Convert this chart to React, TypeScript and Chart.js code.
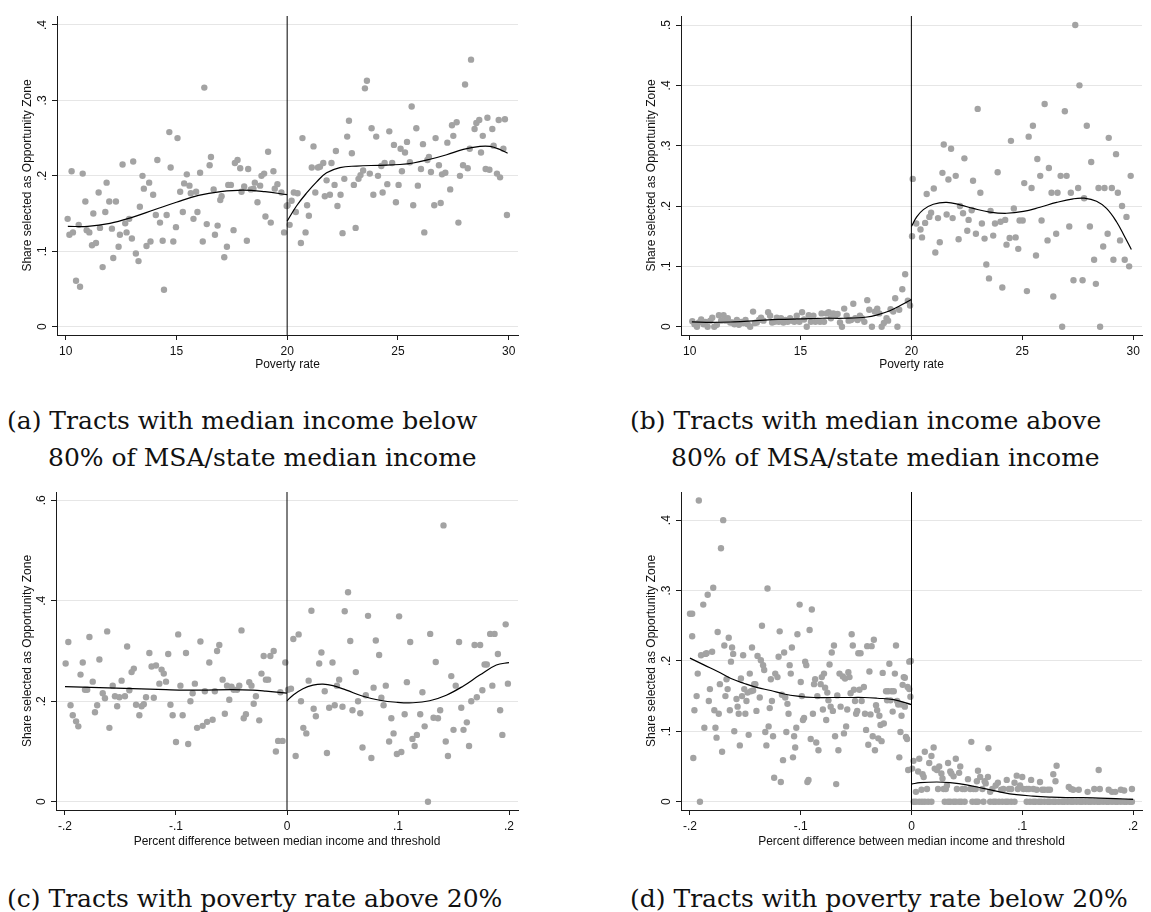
import React, { useEffect, useRef } from "react";
import { Chart, registerables } from "chart.js";
Chart.register(...registerables);

// ---------- Panel (a): poverty rate vs share, median income below 80% ----------
const aScatter: [number, number][] = [
  [10.09,.143],[10.17,.122],[10.27,.206],[10.33,.125],[10.47,.061],[10.59,.135],[10.65,.053],[10.77,.203],[10.89,.166],[10.95,.128],
  [11.07,.125],[11.19,.108],[11.25,.150],[11.37,.111],[11.49,.178],[11.55,.131],[11.67,.079],[11.79,.152],[11.85,.191],[11.97,.166],
  [12.09,.130],[12.15,.091],[12.27,.166],[12.39,.106],[12.45,.122],[12.57,.215],[12.69,.137],[12.75,.125],[12.87,.143],[12.99,.117],
  [13.05,.219],[13.17,.097],[13.29,.087],[13.35,.159],[13.47,.200],[13.53,.183],[13.65,.107],[13.77,.191],[13.83,.113],[13.95,.175],
  [14.07,.148],[14.14,.221],[14.26,.138],[14.38,.114],[14.44,.049],[14.56,.148],[14.68,.258],[14.74,.211],[14.86,.113],[14.98,.132],
  [15.05,.250],[15.17,.179],[15.29,.152],[15.35,.190],[15.47,.202],[15.59,.187],[15.65,.177],[15.77,.143],[15.89,.179],[15.95,.152],
  [16.07,.204],[16.19,.113],[16.26,.317],[16.37,.136],[16.50,.214],[16.56,.225],[16.68,.182],[16.74,.122],[16.86,.134],[16.98,.168],
  [17.04,.173],[17.16,.092],[17.28,.106],[17.34,.188],[17.46,.188],[17.58,.128],[17.64,.217],[17.76,.221],[17.88,.210],[17.94,.179],
  [18.06,.186],[18.18,.114],[18.24,.209],[18.36,.182],[18.48,.183],[18.54,.191],[18.66,.165],[18.78,.187],[18.84,.200],[18.96,.203],
  [19.02,.146],[19.14,.232],[19.26,.138],[19.38,.206],[19.44,.183],[19.56,.189],[19.74,.178],[19.86,.125],[19.98,.160],
  [20.02,.161],[20.11,.135],[20.20,.167],[20.30,.178],[20.39,.152],[20.47,.177],[20.62,.111],[20.69,.250],[20.83,.125],[20.90,.161],
  [20.98,.147],[21.11,.211],[21.19,.239],[21.27,.178],[21.39,.211],[21.48,.212],[21.63,.217],[21.70,.173],[21.78,.194],[21.93,.175],
  [22.00,.217],[22.14,.188],[22.20,.233],[22.27,.160],[22.41,.175],[22.50,.124],[22.58,.196],[22.71,.252],[22.79,.273],[22.92,.230],
  [23.01,.188],[23.09,.131],[23.22,.196],[23.31,.201],[23.43,.207],[23.51,.316],[23.60,.326],[23.73,.203],[23.81,.263],[23.89,.175],
  [24.02,.252],[24.10,.200],[24.25,.213],[24.31,.178],[24.40,.217],[24.52,.189],[24.61,.259],[24.74,.217],[24.82,.241],[24.91,.165],
  [25.03,.188],[25.12,.236],[25.18,.206],[25.32,.231],[25.41,.245],[25.54,.218],[25.62,.292],[25.69,.161],[25.83,.263],[25.90,.187],
  [26.04,.209],[26.13,.242],[26.19,.125],[26.33,.221],[26.40,.225],[26.49,.205],[26.64,.161],[26.70,.250],[26.85,.214],[26.93,.164],
  [26.99,.202],[27.14,.204],[27.23,.244],[27.36,.182],[27.44,.267],[27.50,.253],[27.65,.271],[27.73,.138],[27.80,.200],[27.94,.214],
  [28.03,.321],[28.15,.210],[28.24,.236],[28.30,.354],[28.46,.262],[28.54,.270],[28.67,.274],[28.75,.231],[28.83,.253],[28.96,.209],
  [29.04,.277],[29.13,.208],[29.26,.262],[29.32,.240],[29.47,.203],[29.55,.274],[29.61,.198],[29.76,.236],[29.83,.275],[29.92,.148],
];
const aFitLeft: [number, number][] = [
  [10.1,.133],[11,.133],[12,.137],[13,.145],[14,.155],[15,.165],[16,.174],[17,.179],[18,.181],[19,.179],[20,.175],
];
const aFitRight: [number, number][] = [
  [20,.140],[20.42,.160],[20.87,.177],[21.33,.192],[21.78,.204],[22.38,.211],[23.13,.213],[24.19,.214],[25.09,.215],
  [25.69,.217],[26.45,.222],[27.2,.228],[27.95,.235],[28.7,.239],[29.16,.239],[29.6,.235],[29.95,.230],
];

// ---------- Panel (b): poverty rate vs share, median income above 80% ----------
const bScatter: [number, number][] = [
  [10.12,.009],[10.22,.004],[10.33,.0],[10.42,.007],[10.52,.012],[10.63,.004],[10.72,.008],[10.81,.0],[10.93,.010],[11.02,.015],
  [11.11,.0],[11.23,.003],[11.32,.019],[11.42,.010],[11.53,.019],[11.62,.010],[11.72,.014],[11.83,.007],[11.92,.007],[12.02,.004],
  [12.13,.011],[12.22,.003],[12.33,.008],[12.43,.006],[12.52,.011],[12.62,.004],[12.73,.0],[12.86,.025],[12.94,.006],[13.03,.007],
  [13.13,.011],[13.22,.015],[13.33,.010],[13.54,.024],[13.63,.018],[13.72,.007],[13.83,.008],[13.93,.015],[14.02,.008],[14.12,.014],
  [14.23,.007],[14.32,.011],[14.42,.008],[14.53,.014],[14.62,.010],[14.72,.008],[14.83,.018],[14.95,.008],[15.07,.024],[15.16,.012],
  [15.28,.0],[15.37,.019],[15.47,.008],[15.58,.018],[15.67,.008],[15.77,.010],[15.88,.008],[15.95,.022],[16.06,.008],[16.18,.022],
  [16.27,.024],[16.37,.014],[16.48,.022],[16.58,.019],[16.67,.021],[16.78,.007],[16.87,.0],[16.97,.030],[17.08,.018],[17.17,.010],
  [17.28,.011],[17.38,.038],[17.47,.014],[17.57,.011],[17.68,.018],[17.77,.014],[17.88,.008],[18.01,.044],[18.10,.028],[18.22,.0],
  [18.35,.025],[18.46,.030],[18.55,.022],[18.66,.0],[18.76,.006],[18.88,.014],[18.95,.010],[19.06,.029],[19.18,.025],[19.27,.047],
  [19.37,.0],[19.45,.028],[19.59,.062],[19.72,.087],[19.84,.043],[19.94,.035],
  [20.03,.150],[20.06,.245],[20.22,.171],[20.41,.161],[20.48,.148],[20.62,.172],[20.69,.220],[20.81,.182],[20.89,.189],[21.01,.229],
  [21.08,.123],[21.20,.180],[21.28,.140],[21.40,.255],[21.46,.302],[21.59,.186],[21.67,.244],[21.79,.295],[21.86,.180],[22.00,.250],
  [22.13,.145],[22.19,.200],[22.33,.188],[22.39,.279],[22.52,.159],[22.58,.177],[22.72,.193],[22.78,.242],[22.91,.154],[22.99,.361],
  [23.11,.222],[23.18,.171],[23.30,.146],[23.38,.103],[23.50,.080],[23.57,.192],[23.69,.151],[23.77,.171],[23.89,.256],[24.02,.174],
  [24.10,.065],[24.23,.177],[24.29,.136],[24.43,.147],[24.49,.308],[24.62,.196],[24.70,.148],[24.82,.129],[24.88,.176],[25.02,.176],
  [25.09,.238],[25.21,.059],[25.29,.315],[25.42,.230],[25.48,.333],[25.62,.118],[25.68,.278],[25.81,.250],[25.87,.176],[26.01,.369],
  [26.14,.143],[26.20,.263],[26.32,.222],[26.40,.050],[26.53,.154],[26.59,.222],[26.73,.250],[26.80,.0],[26.92,.357],[27.00,.250],
  [27.12,.166],[27.19,.222],[27.31,.077],[27.39,.500],[27.52,.230],[27.58,.400],[27.72,.077],[27.79,.213],[27.91,.333],[28.05,.166],
  [28.11,.273],[28.24,.111],[28.32,.071],[28.44,.230],[28.51,.0],[28.65,.133],[28.71,.230],[28.85,.154],[28.90,.313],[29.04,.230],
  [29.11,.111],[29.23,.286],[29.31,.222],[29.41,.143],[29.50,.200],[29.62,.111],[29.70,.182],[29.82,.100],[29.89,.250],
];
const bFitLeft: [number, number][] = [
  [10.1,.008],[11,.007],[12,.008],[13,.010],[14,.012],[15,.013],[16,.014],[17,.014],[18,.016],[18.5,.020],[19,.026],[19.5,.035],[20,.045],
];
const bFitRight: [number, number][] = [
  [20,.166],[20.24,.182],[20.54,.194],[20.99,.203],[21.59,.206],[22.19,.202],[22.79,.196],[23.54,.190],[24.29,.188],[25.05,.191],
  [25.8,.198],[26.55,.206],[27.3,.212],[27.79,.213],[28.35,.208],[28.8,.196],[29.25,.174],[29.62,.149],[29.92,.128],
];

// ---------- Panel (c): income difference vs share, poverty rate above 20% ----------
const cScatter: [number, number][] = [
  [-.1994,.275],[-.197,.318],[-.195,.192],[-.193,.172],[-.190,.160],[-.188,.150],[-.186,.253],[-.184,.277],[-.182,.223],[-.180,.223],
  [-.178,.328],[-.175,.239],[-.173,.178],[-.171,.192],[-.169,.283],[-.166,.216],[-.164,.206],[-.162,.339],[-.160,.147],[-.157,.231],
  [-.155,.210],[-.153,.190],[-.151,.208],[-.149,.241],[-.146,.210],[-.144,.309],[-.142,.222],[-.140,.258],[-.138,.265],[-.136,.193],
  [-.133,.172],[-.131,.190],[-.129,.194],[-.127,.208],[-.124,.296],[-.122,.269],[-.120,.207],[-.118,.271],[-.115,.235],[-.113,.263],
  [-.111,.255],[-.109,.239],[-.107,.294],[-.105,.193],[-.103,.172],[-.100,.119],[-.098,.333],[-.096,.231],[-.094,.172],[-.091,.296],
  [-.089,.115],[-.087,.200],[-.085,.216],[-.083,.235],[-.081,.147],[-.078,.319],[-.076,.151],[-.074,.220],[-.072,.159],[-.070,.277],
  [-.067,.163],[-.065,.220],[-.063,.300],[-.061,.312],[-.058,.243],[-.056,.175],[-.054,.231],[-.052,.203],[-.050,.229],[-.048,.223],
  [-.045,.223],[-.043,.231],[-.041,.341],[-.039,.166],[-.037,.174],[-.034,.238],[-.032,.231],[-.030,.195],[-.028,.210],[-.025,.162],
  [-.023,.255],[-.021,.290],[-.019,.243],[-.017,.243],[-.015,.290],[-.012,.300],[-.010,.100],[-.008,.121],[-.006,.218],[-.004,.121],
  [-.0015,.277],
  [.001,.223],[.0036,.225],[.0057,.324],[.0078,.091],[.0105,.333],[.0126,.200],[.0147,.147],[.0174,.136],[.0195,.241],[.022,.380],
  [.024,.185],[.026,.170],[.029,.275],[.031,.297],[.034,.220],[.036,.097],[.038,.187],[.041,.277],[.043,.192],[.045,.231],
  [.047,.243],[.050,.189],[.052,.379],[.055,.417],[.057,.320],[.059,.182],[.062,.258],[.064,.200],[.066,.176],[.068,.108],
  [.071,.212],[.073,.370],[.076,.087],[.078,.227],[.080,.321],[.083,.292],[.085,.207],[.087,.192],[.089,.231],[.092,.120],
  [.094,.166],[.096,.136],[.099,.095],[.101,.369],[.103,.099],[.106,.174],[.108,.238],[.111,.318],[.113,.125],[.115,.111],
  [.117,.133],[.120,.174],[.122,.218],[.124,.150],[.127,.0],[.129,.334],[.132,.167],[.134,.278],[.136,.166],[.138,.182],
  [.141,.550],[.143,.120],[.145,.091],[.148,.250],[.150,.143],[.152,.231],[.155,.318],[.157,.187],[.159,.143],[.162,.158],
  [.164,.111],[.166,.200],[.169,.312],[.171,.208],[.174,.312],[.176,.222],[.178,.273],[.180,.273],[.183,.334],[.185,.231],
  [.187,.334],[.190,.294],[.192,.182],[.194,.133],[.197,.353],[.199,.235],
];
const cFitLeft: [number, number][] = [
  [-.2,.229],[-.169,.227],[-.139,.225],[-.109,.223],[-.079,.222],[-.049,.223],[-.031,.222],[-.019,.220],[0,.216],
];
const cFitRight: [number, number][] = [
  [0,.201],[.0054,.212],[.0144,.225],[.0234,.232],[.0324,.234],[.0414,.231],[.0535,.222],[.0685,.210],[.0835,.202],
  [.0985,.198],[.1135,.197],[.1285,.201],[.1435,.212],[.1586,.230],[.1736,.252],[.1886,.272],[.2,.277],
];

// ---------- Panel (d): income difference vs share, poverty rate below 20% ----------
const dScatter: [number, number][] = [
  [-.2,.267],[-.198,.267],[-.198,.235],[-.197,.062],[-.196,.130],[-.194,.150],[-.193,.182],[-.192,.428],[-.191,.0],[-.190,.208],
  [-.188,.280],[-.187,.105],[-.186,.210],[-.185,.211],[-.184,.294],[-.183,.143],[-.182,.160],[-.180,.213],[-.179,.304],[-.178,.130],
  [-.177,.105],[-.176,.091],[-.175,.241],[-.174,.125],[-.173,.167],[-.172,.360],[-.171,.071],[-.170,.400],[-.169,.222],[-.168,.150],
  [-.167,.174],[-.166,.160],[-.165,.233],[-.164,.130],[-.163,.199],[-.162,.219],[-.161,.210],[-.160,.100],[-.158,.146],[-.157,.135],
  [-.156,.125],[-.155,.080],[-.154,.175],[-.153,.150],[-.152,.208],[-.151,.160],[-.150,.125],[-.149,.143],[-.148,.155],[-.147,.095],
  [-.146,.182],[-.145,.157],[-.144,.219],[-.143,.158],[-.142,.167],[-.141,.167],[-.140,.129],[-.139,.207],[-.137,.148],[-.136,.201],
  [-.135,.250],[-.134,.194],[-.133,.187],[-.132,.099],[-.131,.080],[-.130,.303],[-.129,.107],[-.128,.133],[-.127,.174],[-.126,.143],
  [-.125,.093],[-.124,.034],[-.123,.182],[-.121,.177],[-.120,.206],[-.119,.242],[-.118,.028],[-.117,.152],[-.116,.059],[-.115,.212],
  [-.114,.148],[-.113,.099],[-.112,.139],[-.111,.125],[-.110,.194],[-.109,.182],[-.108,.219],[-.107,.063],[-.106,.093],[-.105,.077],
  [-.104,.105],[-.103,.238],[-.101,.280],[-.100,.170],[-.099,.150],[-.098,.116],[-.097,.119],[-.096,.199],[-.095,.194],[-.094,.028],
  [-.093,.031],[-.092,.244],[-.091,.089],[-.090,.273],[-.089,.125],[-.088,.167],[-.087,.174],[-.086,.084],[-.085,.150],[-.084,.073],
  [-.082,.167],[-.081,.177],[-.080,.131],[-.079,.182],[-.078,.162],[-.077,.116],[-.076,.155],[-.075,.144],[-.074,.195],[-.073,.135],
  [-.072,.212],[-.071,.129],[-.070,.222],[-.069,.093],[-.068,.025],[-.067,.151],[-.066,.073],[-.065,.182],[-.064,.135],[-.062,.178],
  [-.061,.097],[-.060,.175],[-.059,.107],[-.058,.131],[-.057,.184],[-.056,.177],[-.055,.154],[-.054,.238],[-.053,.222],[-.052,.159],
  [-.051,.143],[-.050,.125],[-.049,.129],[-.048,.211],[-.047,.159],[-.046,.211],[-.045,.143],[-.043,.163],[-.042,.125],[-.041,.102],
  [-.040,.221],[-.039,.081],[-.038,.185],[-.037,.124],[-.036,.221],[-.035,.093],[-.034,.230],[-.033,.073],[-.032,.137],[-.031,.130],
  [-.030,.090],[-.029,.122],[-.028,.109],[-.027,.086],[-.026,.183],[-.025,.111],[-.023,.157],[-.022,.144],[-.021,.157],[-.020,.196],
  [-.019,.144],[-.018,.157],[-.017,.128],[-.016,.157],[-.015,.182],[-.014,.222],[-.013,.143],[-.012,.138],[-.011,.063],[-.010,.099],
  [-.009,.138],[-.008,.166],[-.007,.177],[-.006,.176],[-.005,.092],[-.004,.089],[-.003,.045],[-.002,.199],[-.001,.149],[-.0006,.200],
  [-.0035,.163],[-.002,.160],[-.006,.135],[-.009,.122],
  [.0006,.047],[.0018,.058],[.004,.014],[.006,.043],[.007,.061],[.009,.017],[.010,.039],[.011,.035],[.012,.071],[.014,.018],
  [.016,.055],[.018,.065],[.020,.077],[.021,.047],[.023,.045],[.024,.018],[.025,.050],[.027,.040],[.028,.033],[.029,.018],
  [.031,.018],[.032,.023],[.033,.055],[.035,.043],[.036,.040],[.038,.036],[.040,.061],[.041,.018],[.043,.041],[.044,.050],
  [.046,.018],[.048,.018],[.051,.032],[.053,.018],[.054,.085],[.056,.018],[.058,.018],[.059,.029],[.060,.044],[.062,.035],
  [.064,.018],[.066,.029],[.067,.026],[.069,.035],[.0695,.076],[.071,.014],[.073,.018],[.076,.023],[.078,.027],[.081,.017],
  [.083,.018],[.086,.031],[.088,.018],[.090,.018],[.093,.027],[.095,.037],[.096,.018],[.098,.023],[.100,.035],[.101,.018],
  [.104,.018],[.106,.018],[.108,.031],[.110,.018],[.113,.017],[.116,.028],[.118,.017],[.120,.017],[.123,.017],[.125,.017],
  [.128,.039],[.130,.029],[.131,.051],[.142,.021],[.144,.018],[.146,.017],[.151,.017],[.159,.014],[.165,.018],[.169,.045],
  [.170,.018],[.178,.017],[.181,.014],[.184,.014],[.189,.017],[.192,.016],[.199,.018],
  [.002,0],[.004,0],[.007,0],[.0095,0],[.012,0],[.015,0],[.018,0],[.030,0],[.033,0],[.035,0],[.038,0],[.040,0],[.043,0],[.045,0],
  [.048,0],[.055,0],[.058,0],[.060,0],[.065,0],[.071,0],[.074,0],[.076,0],[.079,0],[.082,0],[.085,0],[.087,0],[.090,0],[.093,0],
  [.104,0],[.107,0],[.110,0],[.112,0],[.115,0],[.117,0],[.120,0],[.123,0],[.125,0],[.128,0],[.130,0],[.133,0],[.136,0],[.138,0],
  [.141,0],[.144,0],[.146,0],[.149,0],[.152,0],[.154,0],[.157,0],[.160,0],[.162,0],[.165,0],[.168,0],[.170,0],[.173,0],[.176,0],
  [.178,0],[.181,0],[.184,0],[.186,0],[.189,0],[.192,0],[.194,0],[.197,0],[.199,0],
];
const dFitLeft: [number, number][] = [
  [-.2,.204],[-.187,.194],[-.175,.185],[-.163,.175],[-.151,.168],[-.139,.162],[-.127,.158],[-.115,.153],[-.103,.150],
  [-.088,.148],[-.073,.148],[-.058,.148],[-.043,.148],[-.031,.147],[-.016,.145],[0,.138],
];
const dFitRight: [number, number][] = [
  [0,.025],[.0078,.027],[.0228,.028],[.0347,.027],[.0497,.024],[.0647,.019],[.0796,.014],[.0946,.010],[.1096,.008],
  [.1246,.0066],[.1395,.0057],[.1545,.0057],[.1695,.005],[.1844,.0043],[.2,.0033],
];

// ---------- Axes ----------
const povertyTicks = [10, 15, 20, 25, 30];
const incomeTicks = [-0.2, -0.1, 0, 0.1, 0.2];
const aYTicks = [0, 0.1, 0.2, 0.3, 0.4];
const bYTicks = [0, 0.1, 0.2, 0.3, 0.4, 0.5];
const cYTicks = [0, 0.2, 0.4, 0.6];
const dYTicks = [0, 0.1, 0.2, 0.3, 0.4];
const cutoffs = [20, 20, 0, 0];
const yTitle = "Share selected as Opportunity Zone";
const xTitles = ["Poverty rate", "Poverty rate", "Percent difference between median income and threshold", "Percent difference between median income and threshold"];
const captions = [
  ["(a) Tracts with median income below", "80% of MSA/state median income"],
  ["(b) Tracts with median income above", "80% of MSA/state median income"],
  ["(c) Tracts with poverty rate above 20%"],
  ["(d) Tracts with poverty rate below 20%"],
];

const SANS = "'Liberation Sans', Arial, sans-serif";
const AXIS = "#1a1a1a";
const GRID = "#e6e6e6";
const DOT = "#a3a3a3";

function fmt(v: number): string {
  const r = Math.round(v * 1000) / 1000;
  if (r === 0) return "0";
  return String(r).replace(/^(-?)0\./, "$1.");
}

type PanelProps = {
  left: number; top: number; width: number; height: number;
  pad: { left: number; top: number; right: number; bottom: number };
  yAxisW: number; xAxisH: number;
  xMin: number; xMax: number; yMin: number; yMax: number;
  xTicks: number[]; yTicks: number[]; xTitle: string;
  scatter: [number, number][]; fitL: [number, number][]; fitR: [number, number][]; cutoff: number;
};

function Panel(p: PanelProps) {
  const ref = useRef<HTMLCanvasElement | null>(null);
  useEffect(() => {
    if (!ref.current) return;
    const toPts = (arr: [number, number][]) => arr.map(([x, y]) => ({ x, y }));
    const fitStyle = {
      type: "line" as const,
      borderColor: "#000",
      borderWidth: 1.2,
      pointRadius: 0,
      tension: 0.4,
      fill: false,
      order: 0,
    };
    const chart = new Chart(ref.current, {
      type: "scatter",
      data: {
        datasets: [
          {
            type: "scatter",
            data: toPts(p.scatter),
            pointRadius: 3.2,
            pointBackgroundColor: DOT,
            pointBorderWidth: 0,
            pointBorderColor: DOT,
            order: 2,
          } as any,
          { ...fitStyle, data: toPts(p.fitL) } as any,
          { ...fitStyle, data: toPts(p.fitR) } as any,
          {
            type: "line",
            data: [{ x: p.cutoff, y: p.yMin }, { x: p.cutoff, y: p.yMax }],
            borderColor: "#000",
            borderWidth: 1,
            pointRadius: 0,
            tension: 0,
            order: 1,
          } as any,
        ],
      },
      options: {
        animation: false,
        responsive: false,
        maintainAspectRatio: false,
        events: [],
        layout: { padding: p.pad },
        plugins: { legend: { display: false }, tooltip: { enabled: false } },
        scales: {
          x: {
            type: "linear",
            min: p.xMin,
            max: p.xMax,
            afterBuildTicks: (s: any) => { s.ticks = p.xTicks.map((v) => ({ value: v })); },
            afterFit: (s: any) => { s.height = p.xAxisH; },
            grid: { drawOnChartArea: false, drawTicks: true, tickLength: 5, tickColor: AXIS, tickWidth: 1 },
            border: { display: true, color: AXIS, width: 1 },
            ticks: {
              color: "#111",
              font: { family: SANS, size: 12 },
              padding: 4,
              maxRotation: 0,
              minRotation: 0,
              autoSkip: false,
              callback: (v: any) => fmt(Number(v)),
            },
            title: { display: true, text: p.xTitle, color: "#111", font: { family: SANS, size: 12 }, padding: 0 },
          },
          y: {
            type: "linear",
            min: p.yMin,
            max: p.yMax,
            afterBuildTicks: (s: any) => { s.ticks = p.yTicks.map((v) => ({ value: v })); },
            afterFit: (s: any) => { s.width = p.yAxisW; },
            grid: { color: GRID, lineWidth: 1, drawTicks: true, tickLength: 5, tickColor: AXIS, tickWidth: 1 },
            border: { display: true, color: AXIS, width: 1 },
            ticks: {
              color: "#111",
              font: { family: SANS, size: 12 },
              padding: 4,
              minRotation: 90,
              maxRotation: 90,
              crossAlign: "center",
              autoSkip: false,
              callback: (v: any) => fmt(Number(v)),
            },
            title: { display: true, text: yTitle, color: "#111", font: { family: SANS, size: 12 }, padding: 0 },
          },
        },
      } as any,
    });
    return () => chart.destroy();
  }, []);
  return (
    <canvas
      ref={ref}
      width={p.width}
      height={p.height}
      style={{ position: "absolute", left: p.left, top: p.top, width: p.width, height: p.height }}
    />
  );
}

function Caption({ lines, left, top }: { lines: string[]; left: number; top: number }) {
  return (
    <div style={{ position: "absolute", left, top, fontFamily: "'DejaVu Serif', serif", fontSize: 25, lineHeight: "25px", color: "#111", whiteSpace: "nowrap" }}>
      <div>{lines[0]}</div>
      {lines[1] ? <div style={{ marginTop: 12, marginLeft: 41 }}>{lines[1]}</div> : null}
    </div>
  );
}

export default function App() {
  return (
    <div style={{ position: "absolute", left: 0, top: 0, width: 1151, height: 912, background: "#fff", overflow: "hidden" }}>
      <Panel left={0} top={0} width={575} height={380} pad={{ left: 20, top: 16, bottom: 8, right: 57 }} yAxisW={37} xAxisH={37}
        xMin={9.61} xMax={30.42} yMin={-0.011} yMax={0.4119} xTicks={povertyTicks} yTicks={aYTicks} xTitle={xTitles[0]}
        scatter={aScatter} fitL={aFitLeft} fitR={aFitRight} cutoff={cutoffs[0]} />
      <Panel left={624} top={0} width={527} height={380} pad={{ left: 20, top: 16, bottom: 8, right: 9 }} yAxisW={37} xAxisH={37}
        xMin={9.61} xMax={30.4} yMin={-0.0138} yMax={0.515} xTicks={povertyTicks} yTicks={bYTicks} xTitle={xTitles[1]}
        scatter={bScatter} fitL={bFitLeft} fitR={bFitRight} cutoff={cutoffs[1]} />
      <Panel left={0} top={476} width={575} height={380} pad={{ left: 20, top: 16, bottom: 7, right: 57 }} yAxisW={36} xAxisH={39}
        xMin={-0.2081} xMax={0.2081} yMin={-0.0165} yMax={0.6165} xTicks={incomeTicks} yTicks={cYTicks} xTitle={xTitles[2]}
        scatter={cScatter} fitL={cFitLeft} fitR={cFitRight} cutoff={cutoffs[2]} />
      <Panel left={624} top={476} width={527} height={380} pad={{ left: 20, top: 16, bottom: 7, right: 9 }} yAxisW={37} xAxisH={39}
        xMin={-0.2081} xMax={0.2081} yMin={-0.0118} yMax={0.44} xTicks={incomeTicks} yTicks={dYTicks} xTitle={xTitles[3]}
        scatter={dScatter} fitL={dFitLeft} fitR={dFitRight} cutoff={cutoffs[3]} />
      <Caption lines={captions[0]} left={7} top={408} />
      <Caption lines={captions[1]} left={630} top={408} />
      <Caption lines={captions[2]} left={7} top={886} />
      <Caption lines={captions[3]} left={630} top={886} />
    </div>
  );
}
